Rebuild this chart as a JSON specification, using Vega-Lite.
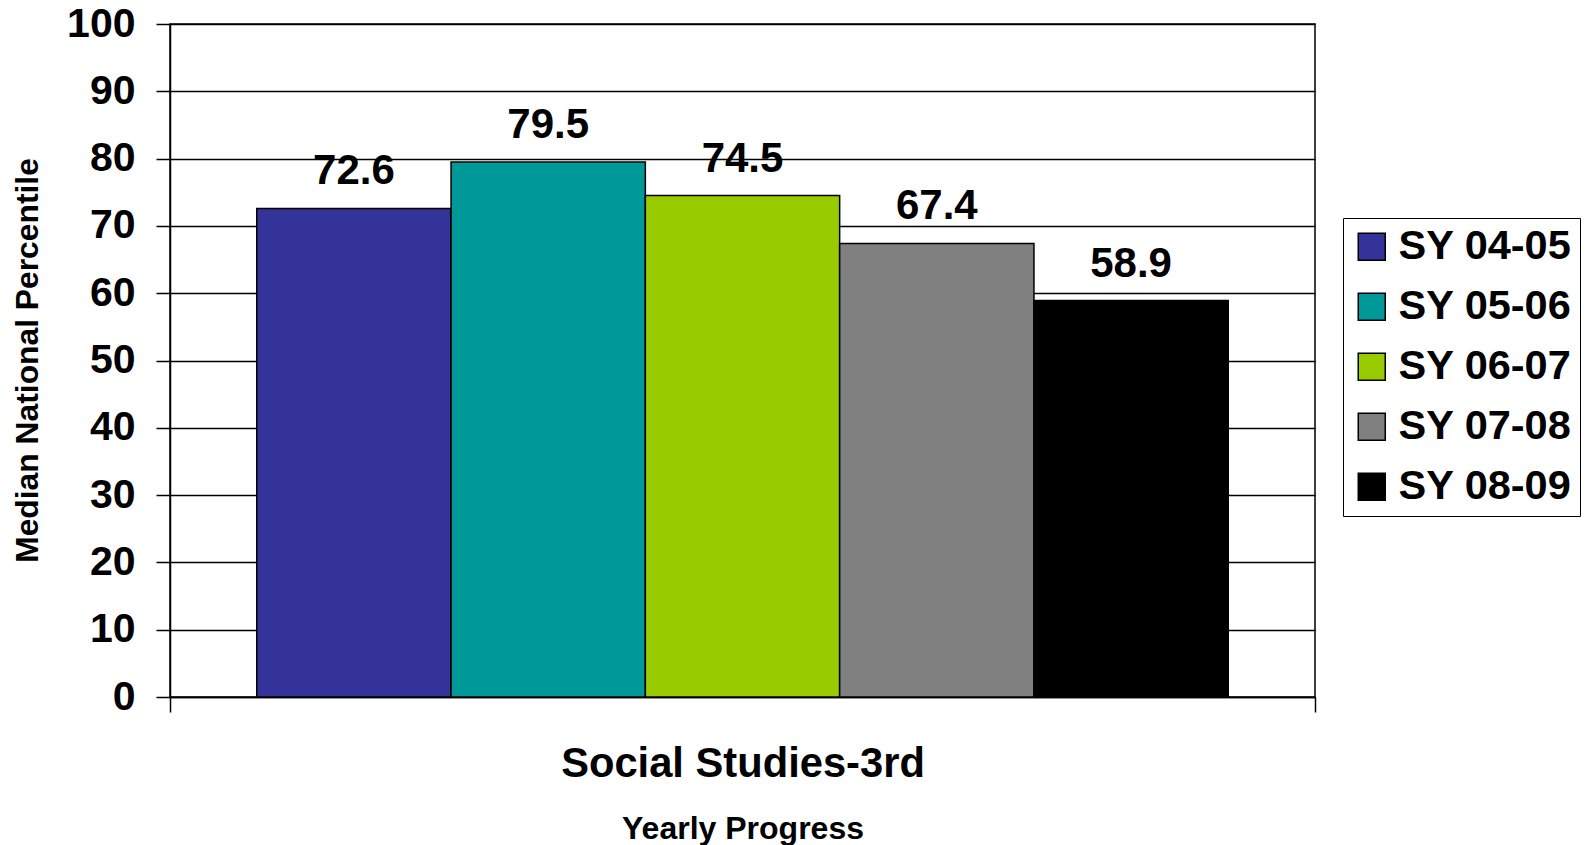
{
  "$schema": "https://vega.github.io/schema/vega-lite/v6.json",
  "width": 1145,
  "height": 673,
  "autosize": "none",
  "padding": {"left": 170, "top": 24, "right": 272, "bottom": 148},
  "config": {
    "font": "Liberation Sans",
    "view": {"stroke": "black", "strokeWidth": 1.5}
  },
  "data": {
    "values": [
      {"subject": "Social Studies-3rd", "year": "SY 04-05", "value": 72.6},
      {"subject": "Social Studies-3rd", "year": "SY 05-06", "value": 79.5},
      {"subject": "Social Studies-3rd", "year": "SY 06-07", "value": 74.5},
      {"subject": "Social Studies-3rd", "year": "SY 07-08", "value": 67.4},
      {"subject": "Social Studies-3rd", "year": "SY 08-09", "value": 58.9}
    ]
  },
  "encoding": {
    "x": {
      "field": "subject",
      "type": "nominal",
      "scale": {"paddingInner": 0, "paddingOuter": 0},
      "axis": {
        "title": "Yearly Progress",
        "labelAngle": 0,
        "tickBand": "extent",
        "tickSize": 15,
        "tickColor": "black",
        "tickWidth": 1.5,
        "domainColor": "black",
        "domainWidth": 1.5,
        "labelFontSize": 41.7,
        "labelFontWeight": "bold",
        "labelColor": "black",
        "labelBaseline": "alphabetic",
        "labelPadding": 64,
        "labelLimit": 800,
        "titleFontSize": 32,
        "titleFontWeight": "bold",
        "titleColor": "black",
        "titleBaseline": "alphabetic",
        "titleY": 141,
        "titleX": 572.5
      }
    },
    "xOffset": {
      "field": "year",
      "type": "nominal",
      "scale": {"paddingInner": 0, "paddingOuter": 0.4465}
    },
    "y": {
      "field": "value",
      "type": "quantitative",
      "scale": {"domain": [0, 100]},
      "axis": {
        "title": "Median National Percentile",
        "values": [0, 10, 20, 30, 40, 50, 60, 70, 80, 90, 100],
        "grid": true,
        "gridColor": "black",
        "gridWidth": 1.5,
        "gridOpacity": 1,
        "tickSize": 14,
        "tickColor": "black",
        "tickWidth": 1.5,
        "domainColor": "black",
        "domainWidth": 1.5,
        "labelFontSize": 41,
        "labelFontWeight": "bold",
        "labelColor": "black",
        "labelPadding": 21,
        "labelOverlap": false,
        "titleFontSize": 31.8,
        "titleFontWeight": "bold",
        "titleColor": "black",
        "titleAngle": -90,
        "titleX": -143,
        "titleY": 336,
        "titleAlign": "center",
        "titleBaseline": "middle"
      }
    }
  },
  "layer": [
    {
      "mark": {"type": "bar", "stroke": "black", "strokeWidth": 1.5},
      "encoding": {
        "color": {
          "field": "year",
          "type": "nominal",
          "scale": {
            "domain": ["SY 04-05", "SY 05-06", "SY 06-07", "SY 07-08", "SY 08-09"],
            "range": ["#333399", "#009999", "#99CC00", "#808080", "#000000"]
          },
          "legend": {
            "orient": "none",
            "legendX": 1173,
            "legendY": 194,
            "title": null,
            "strokeColor": "black",
            "fillColor": "white",
            "padding": 8,
            "symbolType": "square",
            "symbolSize": 729,
            "symbolStrokeColor": "black",
            "symbolStrokeWidth": 1.5,
            "symbolOpacity": 1,
            "labelFontSize": 41.5,
            "labelFontWeight": "bold",
            "labelColor": "black",
            "labelOffset": 6,
            "rowPadding": 17,
            "labelLimit": 400
          }
        }
      }
    },
    {
      "mark": {"type": "text", "dy": -24, "baseline": "alphabetic", "fontSize": 42, "fontWeight": "bold", "color": "black"},
      "encoding": {
        "text": {"field": "value", "type": "quantitative", "format": ".1f"}
      }
    }
  ]
}
